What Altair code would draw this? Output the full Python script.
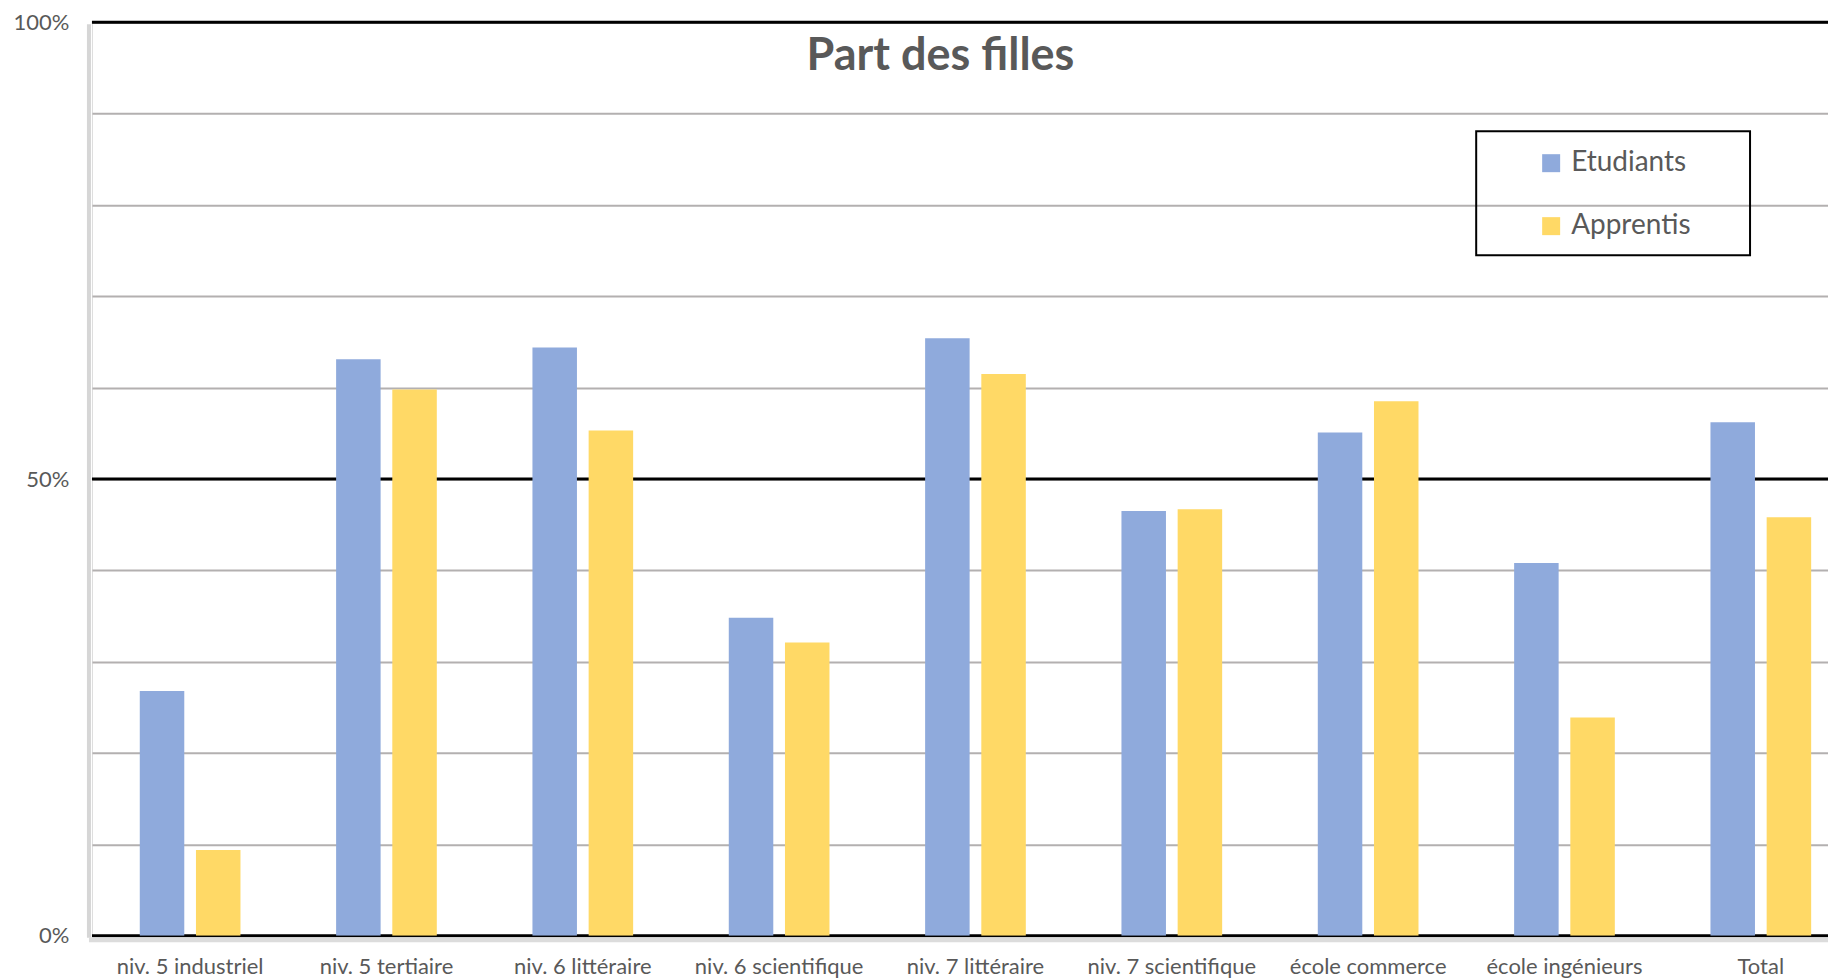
import altair as alt
import pandas as pd

categories = ["niv. 5 industriel", "niv. 5 tertiaire", "niv. 6 littéraire",
              "niv. 6 scientifique", "niv. 7 littéraire", "niv. 7 scientifique",
              "école commerce", "école ingénieurs", "Total"]
etudiants = [0.268, 0.631, 0.644, 0.348, 0.654, 0.465, 0.551, 0.408, 0.562]
apprentis = [0.094, 0.598, 0.553, 0.321, 0.615, 0.467, 0.585, 0.239, 0.458]
series = ["Etudiants", "Apprentis"]
colors = ["#8FAADC", "#FFD966"]
ref_lines = [0, 0.5, 1]
grid_values = [i / 10 for i in range(11)]
title_text = "Part des filles"

rows = []
for c, e, a in zip(categories, etudiants, apprentis):
    rows.append({"cat": c, "serie": series[0], "val": e})
    rows.append({"cat": c, "serie": series[1], "val": a})
df = pd.DataFrame(rows)
ref_df = pd.DataFrame({"val": ref_lines})
one = pd.DataFrame({"k": [0]})

FONT = "Lato"
GREY = "#595959"
W, H = 1737, 914

yscale = alt.Scale(domain=[0, 1], nice=False)
yaxis = alt.Axis(values=grid_values, grid=True, gridColor="#b3b0b0",
                 gridWidth=2, domain=False, ticks=False,
                 labelFont=FONT, labelFontSize=22, labelColor=GREY,
                 labelPadding=23,
                 labelExpr="datum.value == 0 ? '0%' : (datum.value == 0.5 ? '50%' : (datum.value == 1 ? '100%' : ''))")

rules = alt.Chart(ref_df).mark_rule(color="black", strokeWidth=3).encode(
    y=alt.Y("val:Q", scale=yscale, title=None, axis=yaxis)
)

bars = alt.Chart(df).mark_bar(clip=True).encode(
    x=alt.X("cat:N", sort=categories, title=None,
            scale=alt.Scale(range=[0, 1768], paddingInner=0, paddingOuter=0),
            axis=alt.Axis(labelAngle=0, labelFont=FONT, labelFontSize=22,
                          labelColor=GREY, labelPadding=21, ticks=False,
                          domain=False, grid=False, labelLimit=400)),
    xOffset=alt.XOffset("serie:N", sort=series,
                        scale=alt.Scale(paddingInner=0.208, paddingOuter=0.851)),
    y=alt.Y("val:Q", scale=yscale, title=None, axis=yaxis),
    color=alt.Color("serie:N", sort=series,
                    scale=alt.Scale(domain=series, range=colors),
                    legend=alt.Legend(title=None, orient="none", legendX=1446,
                                      legendY=127, symbolType="square",
                                      symbolSize=324, symbolStrokeWidth=0,
                                      labelFont=FONT, labelFontSize=28,
                                      labelColor=GREY, labelOffset=6,
                                      rowPadding=35, padding=0)),
)

left_shadow = alt.Chart(one).mark_rule(color="#d6d6d6", strokeWidth=4).encode(
    x=alt.value(-3), y=alt.value(2), y2=alt.value(H + 2)
)
bottom_shadow = alt.Chart(one).mark_rule(color="#dcdcdc", strokeWidth=5).encode(
    x=alt.value(-3), x2=alt.value(W), y=alt.value(H + 4)
)

box = alt.Chart(one).mark_rect(fill=None, stroke="black", strokeWidth=2).encode(
    x=alt.value(1385), x2=alt.value(1659), y=alt.value(109), y2=alt.value(233)
)

title = alt.Chart(one).mark_text(font=FONT, fontSize=45, fontWeight="bold",
                                 color=GREY, align="center",
                                 baseline="middle").encode(
    x=alt.value(849), y=alt.value(34), text=alt.value(title_text)
)

chart = alt.layer(rules, bars, left_shadow, bottom_shadow, box, title).properties(
    width=W, height=H,
    autosize=alt.AutoSizeParams(type="none"),
    padding={"left": 84, "top": 14, "right": 0, "bottom": 42},
).configure_view(stroke=None).configure(background="white")

chart.save("out.html", embed_options={"renderer": "svg", "actions": False})
